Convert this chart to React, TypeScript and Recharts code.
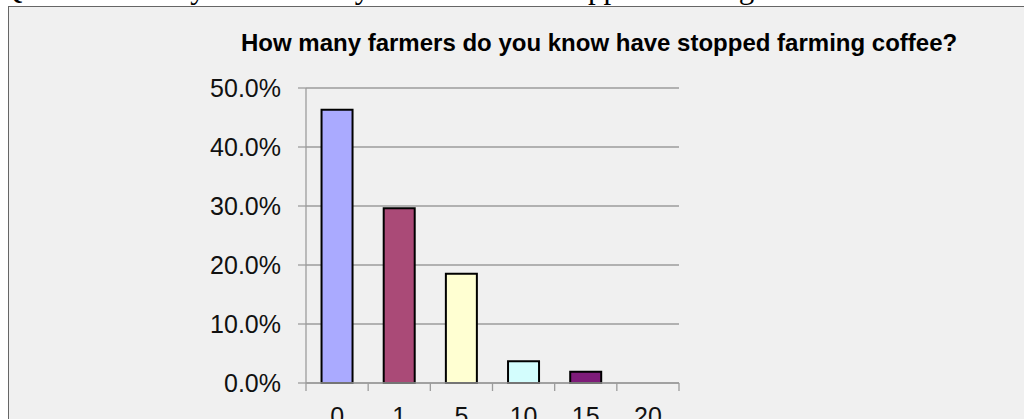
import { BarChart, Bar, Cell, XAxis, YAxis, CartesianGrid } from 'recharts';

const categories = ['0', '1', '5', '10', '15', '20'];
const shares = [46.3, 29.6, 18.5, 3.7, 1.9, 0];
const barColors = ['#aaaaff', '#aa4a77', '#ffffd2', '#d3fdfd', '#7e1b79', '#cccccc'];
const yTicks = [0, 10, 20, 30, 40, 50];

const chartData = categories.map((c, i) => ({ answer: c, share: shares[i] }));

const axisGray = '#9c9c9c';
const sans = '"Liberation Sans", Arial, Helvetica, sans-serif';
const X_TICK_SIZE = 8;
const X_TICK_MARGIN = 16;

// Excel style: tick marks sit between the categories, labels in the middle
function BetweenTick(props: any) {
  const { x, y, payload, index } = props;
  const half = payload.offset || 0;
  const top = y - X_TICK_SIZE - X_TICK_MARGIN;
  const isLast = index === categories.length - 1;
  return (
    <g>
      <line x1={x - half} x2={x - half} y1={top} y2={top + X_TICK_SIZE} stroke={axisGray} strokeWidth={1.3} />
      {isLast && (
        <line x1={x + half} x2={x + half} y1={top} y2={top + X_TICK_SIZE} stroke={axisGray} strokeWidth={1.3} />
      )}
      <text x={x} y={y} dy="0.71em" textAnchor="middle" fontSize={25} fill="#111" fontFamily={sans}>
        {payload.value}
      </text>
    </g>
  );
}

export default function App() {
  return (
    <div style={{ position: 'fixed', left: 0, top: 0, width: 1024, height: 419, overflow: 'hidden', background: '#fff' }}>
      {/* cut-off line of the surrounding document */}
      <div
        style={{
          position: 'absolute',
          left: 0,
          top: -30,
          whiteSpace: 'nowrap',
          fontFamily: '"Liberation Serif", "Times New Roman", serif',
          fontSize: 31,
          color: '#000',
        }}
      >
        Q13. How many farmers do you know have stopped farming coffee?
      </div>

      <div
        style={{
          position: 'absolute',
          left: 8,
          top: 6,
          width: 1100,
          height: 500,
          border: '1px solid #666',
          background: '#f0f0f0',
        }}
      />

      <div style={{ position: 'absolute', left: 0, top: 0 }}>
        <BarChart
          width={1024}
          height={460}
          data={chartData}
          margin={{ top: 88, right: 345, bottom: 37, left: 0 }}
          barCategoryGap="25%"
        >
          <CartesianGrid vertical={false} stroke={axisGray} strokeWidth={1.3} />
          <XAxis
            dataKey="answer"
            height={40}
            tickSize={X_TICK_SIZE}
            tickMargin={X_TICK_MARGIN}
            axisLine={{ stroke: axisGray, strokeWidth: 1.3 }}
            tickLine={false}
            interval={0}
            tick={<BetweenTick />}
          />
          <YAxis
            width={306}
            domain={[0, 50]}
            ticks={yTicks}
            tickSize={8}
            tickMargin={17}
            tickFormatter={(v: number) => v.toFixed(1) + '%'}
            axisLine={{ stroke: axisGray, strokeWidth: 1.3 }}
            tickLine={{ stroke: axisGray, strokeWidth: 1.3 }}
            tick={{ fontSize: 25, fill: '#111', fontFamily: sans }}
          />
          <Bar dataKey="share" stroke="#000" strokeWidth={2} isAnimationActive={false}>
            {chartData.map((d, i) => (
              <Cell key={d.answer} fill={barColors[i]} />
            ))}
          </Bar>
        </BarChart>
      </div>

      <div
        style={{
          position: 'absolute',
          left: 241,
          top: 29,
          whiteSpace: 'nowrap',
          fontFamily: sans,
          fontWeight: 'bold',
          fontSize: 24,
          color: '#000',
        }}
      >
        How many farmers do you know have stopped farming coffee?
      </div>
    </div>
  );
}
